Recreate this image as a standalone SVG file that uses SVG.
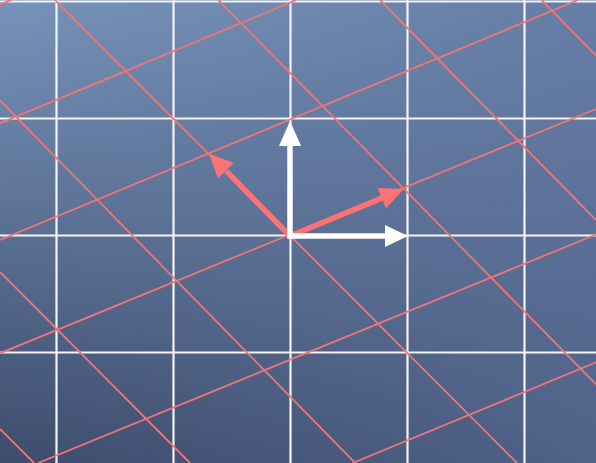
<svg xmlns="http://www.w3.org/2000/svg" width="596" height="463" viewBox="0 0 596 463">
  <defs>
    <linearGradient id="bgV" x1="0" y1="0" x2="0" y2="1">
      <stop offset="0" stop-color="#7793b9"/>
      <stop offset="1" stop-color="#3d4c6c"/>
    </linearGradient>
    <linearGradient id="bgH" x1="0" y1="0" x2="1" y2="0">
      <stop offset="0" stop-color="#5b7099" stop-opacity="0"/>
      <stop offset="1" stop-color="#5b7099" stop-opacity="0.6"/>
    </linearGradient>
    <style>
      .wgrid line { stroke: #f4f4f4; stroke-width: 2.2; }
      .rgrid line { stroke: #f07478; stroke-width: 1.8; }
      .white { fill: #ffffff; }
      .red { fill: #fd7272; }
      .wshaft { stroke: #ffffff; stroke-width: 5.5; }
      .rshaft { stroke: #fd7272; stroke-width: 5.5; }
    </style>
  </defs>

  <g id="background">
    <rect x="0" y="0" width="596" height="463" fill="url(#bgV)"/>
    <rect x="0" y="0" width="596" height="463" fill="url(#bgH)"/>
  </g>

  <g id="white-grid" class="wgrid">
    <line x1="56.5" y1="0" x2="56.5" y2="463"/>
    <line x1="173.5" y1="0" x2="173.5" y2="463"/>
    <line x1="290.5" y1="0" x2="290.5" y2="463"/>
    <line x1="407.5" y1="0" x2="407.5" y2="463"/>
    <line x1="524.5" y1="0" x2="524.5" y2="463"/>
    <line x1="0" y1="1.5" x2="596" y2="1.5"/>
    <line x1="0" y1="118.5" x2="596" y2="118.5"/>
    <line x1="0" y1="235.5" x2="596" y2="235.5"/>
    <line x1="0" y1="352.5" x2="596" y2="352.5"/>
  </g>

  <g id="red-grid" class="rgrid">
    <line x1="-5" y1="6.6" x2="16" y2="-2"/>
    <line x1="0" y1="123.3" x2="296.3" y2="0"/>
    <line x1="0" y1="240" x2="578" y2="0"/>
    <line x1="0" y1="353.3" x2="596" y2="109"/>
    <line x1="38" y1="463" x2="596" y2="234.5"/>
    <line x1="352.6" y1="463" x2="596" y2="362.4"/>
    <line x1="0" y1="429" x2="34" y2="463"/>
    <line x1="0" y1="272" x2="190" y2="463"/>
    <line x1="0" y1="100.5" x2="355.2" y2="463"/>
    <line x1="55" y1="0" x2="517" y2="463"/>
    <line x1="218.4" y1="0" x2="596" y2="384.4"/>
    <line x1="380" y1="0" x2="596" y2="220"/>
    <line x1="541.6" y1="0" x2="596" y2="55.5"/>
  </g>

  <g id="vector-i-transformed">
    <line class="rshaft" x1="290" y1="236" x2="382.5" y2="197.9"/>
    <polygon class="red" points="404,189 386,208.3 377.6,188"/>
  </g>
  <g id="vector-j-transformed">
    <line class="rshaft" x1="290" y1="236" x2="226.5" y2="171.3"/>
    <polygon class="red" points="209,153.5 233.65,162.9 217.95,178.3"/>
  </g>
  <g id="vector-i-hat">
    <line class="wshaft" x1="287.5" y1="236" x2="386" y2="236"/>
    <polygon class="white" points="408,236 385,225 385,247"/>
  </g>
  <g id="vector-j-hat">
    <line class="wshaft" x1="290" y1="238.5" x2="290" y2="145"/>
    <polygon class="white" points="290,121 279,146 301,146"/>
  </g>
</svg>
